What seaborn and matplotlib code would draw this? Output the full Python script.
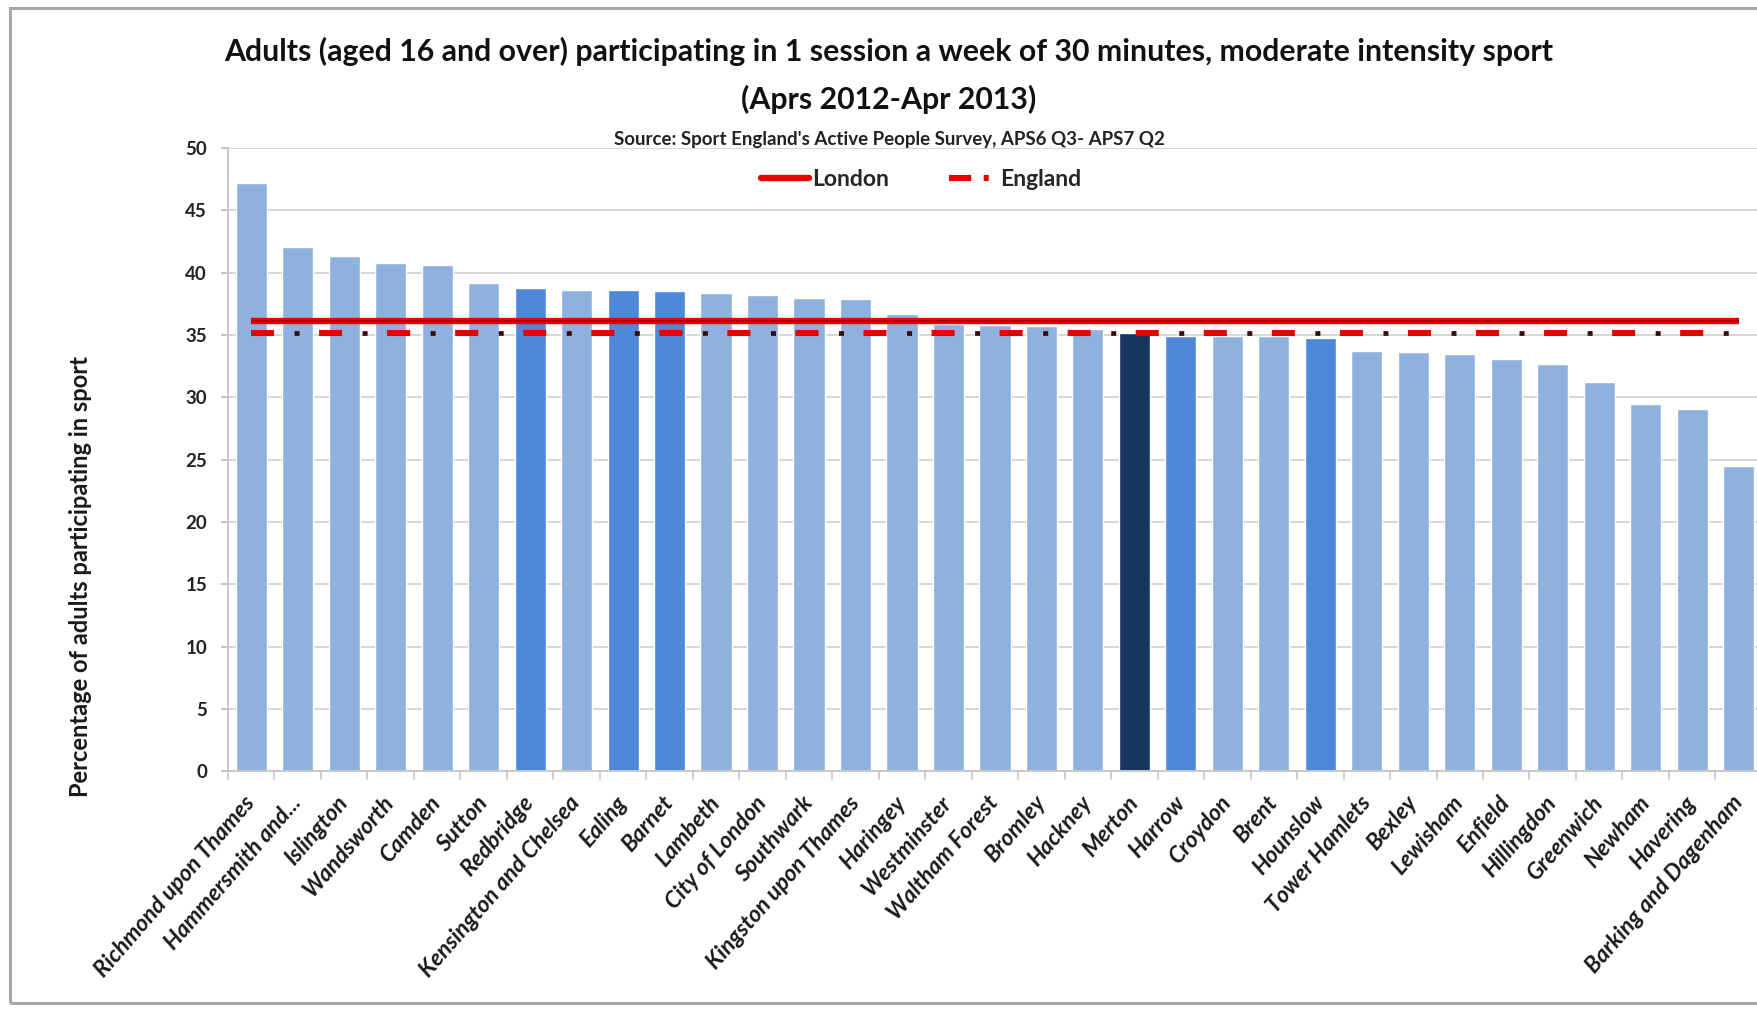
import matplotlib
matplotlib.use("Agg")
import matplotlib.pyplot as plt
from matplotlib.lines import Line2D
from matplotlib.patches import Rectangle
import seaborn as sns
import pandas as pd

# London boroughs, sorted by participation
boroughs = [
    "Richmond upon Thames", "Hammersmith and...", "Islington", "Wandsworth",
    "Camden", "Sutton", "Redbridge", "Kensington and Chelsea", "Ealing",
    "Barnet", "Lambeth", "City of London", "Southwark", "Kingston upon Thames",
    "Haringey", "Westminster", "Waltham Forest", "Bromley", "Hackney",
    "Merton", "Harrow", "Croydon", "Brent", "Hounslow", "Tower Hamlets",
    "Bexley", "Lewisham", "Enfield", "Hillingdon", "Greenwich", "Newham",
    "Havering", "Barking and Dagenham",
]
participation = [
    47.2, 42.1, 41.3, 40.8, 40.6, 39.2, 38.8, 38.6, 38.6,
    38.5, 38.4, 38.2, 38.0, 37.9,
    36.7, 35.9, 35.8, 35.7, 35.5,
    35.2, 34.9, 34.9, 34.9, 34.8, 33.7,
    33.6, 33.5, 33.1, 32.7, 31.2, 29.5,
    29.1, 24.5,
]
# Benchmark averages
london_avg = 36.1
england_avg = 35.2

# Boroughs picked out in stronger blues
focus_borough = ["Merton"]
neighbour_boroughs = ["Redbridge", "Ealing", "Barnet", "Harrow", "Hounslow"]

y_ticks = list(range(0, 51, 5))

title_line1 = ("Adults (aged 16 and over) participating in 1 session a week of "
               "30 minutes, moderate intensity sport")
title_line2 = "(Aprs 2012-Apr 2013)"
source_text = "Source: Sport England's Active People Survey, APS6 Q3- APS7 Q2"
y_label = "Percentage of adults participating in sport"

LIGHT = "#8EB1DE"
MID = "#4D89D8"
DARK = "#17365D"
RED = "#E60000"
DARK_RED = "#A00000"

sns.set_theme(style="white")
plt.rcParams["font.family"] = ["Lato", "DejaVu Sans"]
plt.rcParams["lines.scale_dashes"] = False

df = pd.DataFrame({"borough": boroughs, "pct": participation})


def bar_colour(name):
    if name in focus_borough:
        return DARK
    if name in neighbour_boroughs:
        return MID
    return LIGHT


palette = {b: bar_colour(b) for b in boroughs}

fig = plt.figure(figsize=(17.58, 10.14), dpi=100)
ax = fig.add_axes([0.1297, 0.2393, 0.8725, 0.6147])

sns.barplot(data=df, x="borough", y="pct", hue="borough", palette=palette,
            order=boroughs, hue_order=boroughs, dodge=False, legend=False,
            width=0.67, saturation=1, ax=ax, zorder=2)

n = len(boroughs)
xs = list(range(n))

# London average: red line with a slightly darker core
ax.plot(xs, [london_avg] * n, color=RED, lw=4.6, solid_capstyle="butt",
        zorder=4)
ax.plot(xs, [london_avg + 0.05] * n, color=DARK_RED, lw=1.1,
        solid_capstyle="butt", zorder=5)

# England average: long dash (red), gap, dark dot, gap
dash_pattern = (0, (16.6, 32.4))
dot_pattern = (18.0, (3.6, 45.4))
ax.plot(xs, [england_avg] * n, color=RED, lw=4.4, linestyle=dash_pattern,
        dash_capstyle="butt", zorder=4)
ax.plot(xs, [england_avg] * n, color="#3A0A0A", lw=3.4, linestyle=dot_pattern,
        dash_capstyle="butt", zorder=4)

ax.set_ylim(0, 50)
ax.set_xlim(-0.5, n - 0.5)
ax.set_yticks(y_ticks)
ax.set_yticklabels([str(t) for t in y_ticks], fontsize=13.5, fontweight="bold",
                   color="#222222")
ax.yaxis.grid(True, color="#D0D0D0", lw=1.2, zorder=0)
ax.set_axisbelow(True)

ax.set_xticks(xs)
ax.set_xticklabels(boroughs, rotation=49, ha="right", va="center",
                   rotation_mode="anchor", fontsize=16.5, fontweight="bold",
                   fontstyle="italic", color="#1A1A1A")
ax.tick_params(axis="x", pad=20, length=0)
ax.tick_params(axis="y", pad=10, length=5, color="#BBBBBB", left=True)

# small tick marks between categories
for k in range(n + 1):
    ax.plot([k - 0.5, k - 0.5], [0, -0.6], color="#C8C8C8", lw=1.2,
            clip_on=False, zorder=1)

for side in ("top", "right"):
    ax.spines[side].set_visible(False)
for side in ("left", "bottom"):
    ax.spines[side].set_color("#C8C8C8")
    ax.spines[side].set_linewidth(1.4)

ax.set_xlabel("")
ax.set_ylabel(y_label, fontsize=17, fontweight="bold", color="#1A1A1A")
ax.yaxis.set_label_coords(-0.0889, 0.312)

handles = [
    Line2D([0], [0], color=RED, lw=4.6),
    Line2D([0], [0], color=RED, lw=4.4, linestyle=(0, (16.0, 9.0, 3.6, 40.0))),
]
ax.legend(handles, ["London", "England"], loc="center", ncol=2,
          bbox_to_anchor=(0.452, 0.949), frameon=False,
          handlelength=2.1, handletextpad=0.15, columnspacing=2.6,
          prop={"weight": "bold", "size": 16.5})

fig.text(0.5057, 0.949, title_line1, ha="center", va="center",
         fontsize=21.8, fontweight="bold", color="#111111")
fig.text(0.5057, 0.902, title_line2, ha="center", va="center",
         fontsize=21.8, fontweight="bold", color="#111111")
fig.text(0.5057, 0.8625, source_text, ha="center", va="center",
         fontsize=13.5, fontweight="bold", color="#222222")

# chart frame
fig.patches.append(Rectangle((0.0057, 0.0108), 1.2, 0.981,
                             transform=fig.transFigure, fill=False,
                             edgecolor="#A8A8A8", lw=2.2, zorder=10))

fig.savefig("out.png", dpi=100)
